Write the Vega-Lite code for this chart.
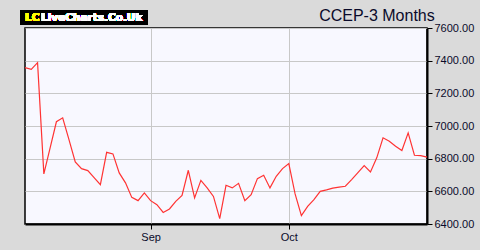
{
  "$schema": "https://vega.github.io/schema/vega-lite/v6.json",
  "autosize": {"type": "none"},
  "padding": {"left": 25, "top": 28, "right": 53, "bottom": 26},
  "width": 402,
  "height": 196,
  "background": "#dadada",
  "title": {
    "text": "CCEP-3 Months",
    "anchor": "end",
    "font": "Liberation Sans",
    "fontSize": 16,
    "fontWeight": "normal",
    "color": "#0a0a2a",
    "dx": -39,
    "dy": 16,
    "offset": 2
  },
  "config": {
    "view": {"stroke": "#000000", "strokeWidth": 1.5, "fill": "#f8f8ff"},
    "axis": {
      "labelFont": "Liberation Sans",
      "labelFontSize": 11,
      "labelColor": "#0a0a2a",
      "labelOverlap": false,
      "domainColor": "#000000",
      "domainWidth": 2,
      "tickColor": "#000000",
      "tickSize": 5,
      "labelPadding": 2,
      "gridColor": "#c8c8c8",
      "gridWidth": 1,
      "title": null
    }
  },
  "data": {
    "values": [
      {"date": "2025-08-01", "close": 7357},
      {"date": "2025-08-04", "close": 7347},
      {"date": "2025-08-05", "close": 7388},
      {"date": "2025-08-06", "close": 6707},
      {"date": "2025-08-07", "close": 6866},
      {"date": "2025-08-08", "close": 7026},
      {"date": "2025-08-11", "close": 7050},
      {"date": "2025-08-12", "close": 6917},
      {"date": "2025-08-13", "close": 6780},
      {"date": "2025-08-14", "close": 6739},
      {"date": "2025-08-15", "close": 6727},
      {"date": "2025-08-18", "close": 6684},
      {"date": "2025-08-19", "close": 6641},
      {"date": "2025-08-20", "close": 6839},
      {"date": "2025-08-21", "close": 6829},
      {"date": "2025-08-22", "close": 6713},
      {"date": "2025-08-26", "close": 6652},
      {"date": "2025-08-27", "close": 6563},
      {"date": "2025-08-28", "close": 6543},
      {"date": "2025-08-29", "close": 6590},
      {"date": "2025-09-01", "close": 6543},
      {"date": "2025-09-02", "close": 6518},
      {"date": "2025-09-03", "close": 6471},
      {"date": "2025-09-04", "close": 6492},
      {"date": "2025-09-05", "close": 6539},
      {"date": "2025-09-08", "close": 6575},
      {"date": "2025-09-09", "close": 6729},
      {"date": "2025-09-10", "close": 6560},
      {"date": "2025-09-11", "close": 6667},
      {"date": "2025-09-12", "close": 6621},
      {"date": "2025-09-15", "close": 6569},
      {"date": "2025-09-16", "close": 6433},
      {"date": "2025-09-17", "close": 6637},
      {"date": "2025-09-18", "close": 6621},
      {"date": "2025-09-19", "close": 6649},
      {"date": "2025-09-22", "close": 6543},
      {"date": "2025-09-23", "close": 6580},
      {"date": "2025-09-24", "close": 6678},
      {"date": "2025-09-25", "close": 6698},
      {"date": "2025-09-26", "close": 6621},
      {"date": "2025-09-29", "close": 6692},
      {"date": "2025-09-30", "close": 6739},
      {"date": "2025-10-01", "close": 6770},
      {"date": "2025-10-02", "close": 6584},
      {"date": "2025-10-03", "close": 6451},
      {"date": "2025-10-06", "close": 6508},
      {"date": "2025-10-07", "close": 6549},
      {"date": "2025-10-08", "close": 6600},
      {"date": "2025-10-09", "close": 6609},
      {"date": "2025-10-10", "close": 6620},
      {"date": "2025-10-13", "close": 6626},
      {"date": "2025-10-14", "close": 6631},
      {"date": "2025-10-15", "close": 6672},
      {"date": "2025-10-16", "close": 6715},
      {"date": "2025-10-17", "close": 6758},
      {"date": "2025-10-20", "close": 6719},
      {"date": "2025-10-21", "close": 6805},
      {"date": "2025-10-22", "close": 6928},
      {"date": "2025-10-23", "close": 6907},
      {"date": "2025-10-24", "close": 6876},
      {"date": "2025-10-27", "close": 6850},
      {"date": "2025-10-28", "close": 6958},
      {"date": "2025-10-29", "close": 6821},
      {"date": "2025-10-30", "close": 6819},
      {"date": "2025-10-31", "close": 6809}
    ]
  },
  "layer": [
    {
      "mark": {"type": "line", "color": "#ff3333", "strokeWidth": 1.2},
      "encoding": {
        "x": {
          "field": "date",
          "type": "ordinal",
          "scale": {"type": "point", "padding": 0},
          "axis": {
            "values": ["2025-09-01", "2025-10-01"],
            "labelExpr": "datum.value == '2025-09-01' ? 'Sep' : 'Oct'",
            "labelAngle": 0,
            "grid": true
          }
        },
        "y": {
          "field": "close",
          "type": "quantitative",
          "scale": {"domain": [6400, 7600], "zero": false, "nice": false},
          "axis": {
            "orient": "right",
            "values": [6400, 6600, 6800, 7000, 7200, 7400, 7600],
            "format": ".2f",
            "grid": true
          }
        }
      }
    },
    {
      "mark": {"type": "rect", "color": "#000000", "xOffset": -5, "x2Offset": 123, "yOffset": -3, "y2Offset": -18},
      "encoding": {
        "x": {"datum": "2025-08-01", "type": "ordinal", "axis": {"values": ["2025-09-01", "2025-10-01"], "labelExpr": "datum.value == '2025-09-01' ? 'Sep' : 'Oct'", "labelAngle": 0, "grid": true}},
        "x2": {"datum": "2025-08-01"},
        "y": {"datum": 7600, "type": "quantitative", "axis": {"orient": "right", "values": [6400, 6600, 6800, 7000, 7200, 7400, 7600], "format": ".2f", "grid": true}},
        "y2": {"datum": 7600}
      }
    },
    {
      "mark": {"type": "text", "text": "LC", "color": "#ffff00", "font": "DejaVu Sans", "fontSize": 10.5, "fontWeight": "bold", "align": "left", "baseline": "alphabetic", "dx": 0, "dy": -7},
      "encoding": {
        "x": {"datum": "2025-08-01", "type": "ordinal", "axis": {"values": ["2025-09-01", "2025-10-01"], "labelExpr": "datum.value == '2025-09-01' ? 'Sep' : 'Oct'", "labelAngle": 0, "grid": true}},
        "y": {"datum": 7600, "type": "quantitative", "axis": {"orient": "right", "values": [6400, 6600, 6800, 7000, 7200, 7400, 7600], "format": ".2f", "grid": true}}
      }
    },
    {
      "mark": {"type": "text", "text": "LiveCharts.Co.Uk", "color": "#ffffff", "font": "DejaVu Sans", "fontSize": 10.5, "fontWeight": "bold", "align": "left", "baseline": "alphabetic", "dx": 16, "dy": -7},
      "encoding": {
        "x": {"datum": "2025-08-01", "type": "ordinal", "axis": {"values": ["2025-09-01", "2025-10-01"], "labelExpr": "datum.value == '2025-09-01' ? 'Sep' : 'Oct'", "labelAngle": 0, "grid": true}},
        "y": {"datum": 7600, "type": "quantitative", "axis": {"orient": "right", "values": [6400, 6600, 6800, 7000, 7200, 7400, 7600], "format": ".2f", "grid": true}}
      }
    }
  ]
}
